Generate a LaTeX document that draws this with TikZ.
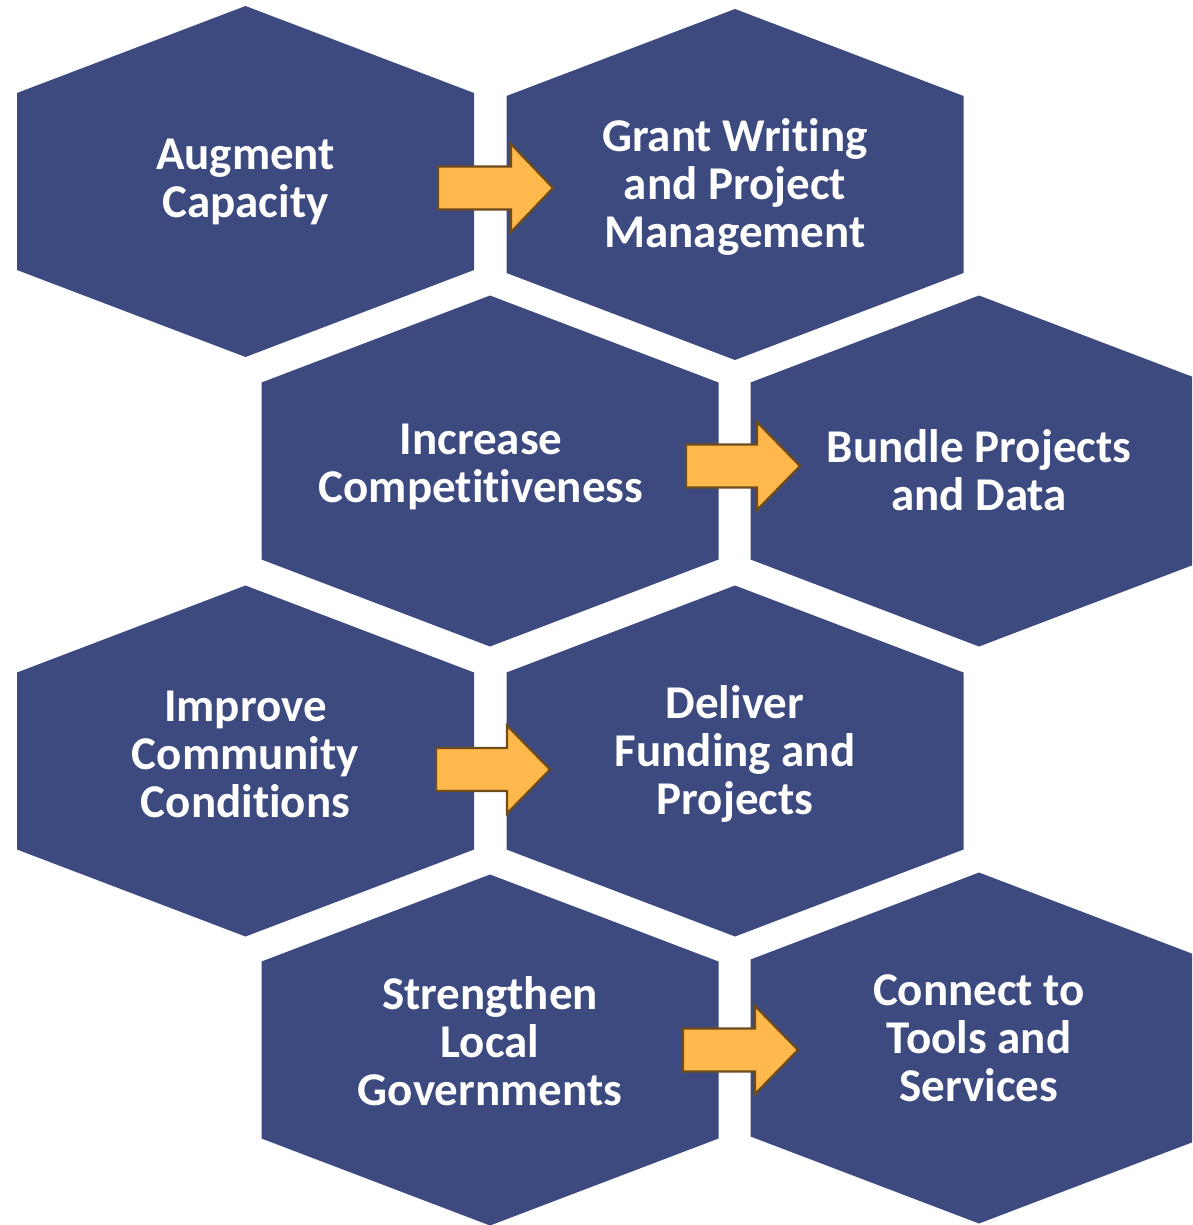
\documentclass[tikz,border=0pt]{standalone}
\usepackage{fontspec}
\setmainfont{Carlito}[RawFeature={-liga}]
\definecolor{hexblue}{RGB}{60,74,128}
\definecolor{arrfill}{RGB}{255,184,76}
\definecolor{arrline}{RGB}{110,76,28}
\newcommand\hexcell[3]{% name, cx, cy
  \coordinate (#1) at (#2,#3);
  \fill[hexblue] ($(#1)+(0,-175.5)$) -- ($(#1)+(228.5,-88.5)$) -- ($(#1)+(228.5,88.5)$)
    -- ($(#1)+(0,175.5)$) -- ($(#1)+(-228.5,88.5)$) -- ($(#1)+(-228.5,-88.5)$) -- cycle;
}
\newcommand\blockarrow[4]{% x0, ymid, xbase, xtip
  \filldraw[arrowshape] (#1,#2-21.5) -- (#3,#2-21.5) -- (#3,#2-44) -- (#4,#2)
    -- (#3,#2+44) -- (#3,#2+21.5) -- (#1,#2+21.5) -- cycle;
}
\usetikzlibrary{calc}
\tikzset{
  label text/.style={text=white, font=\fontsize{47}{48}\selectfont\bfseries, align=center, inner sep=0pt},
  arrowshape/.style={fill=arrfill, draw=arrline, line width=2.2pt, line join=miter},
}
\begin{document}
\begin{tikzpicture}[x=1pt,y=-1pt]
\useasboundingbox (0,0) rectangle (1192,1225);
\begin{scope}
\clip (0,0) rectangle (1192,1225);
\hexcell{h1}{245.5}{181.5}
\hexcell{h2}{735}{184.5}
\hexcell{h3}{490}{471}
\hexcell{h4}{979}{471}
\hexcell{h5}{245.5}{761}
\hexcell{h6}{735}{761}
\hexcell{h7}{490}{1050}
\hexcell{h8}{979}{1048}
\end{scope}
\blockarrow{438}{188}{511}{553}
\blockarrow{686}{466}{757}{800}
\blockarrow{436}{769.5}{507}{550}
\blockarrow{683}{1050}{755}{798}
\node[label text] (t1) at (245.5,182) {Augment\\Capacity};
\node[label text] (t2) at (735,187) {Grant Writing\\and Project\\Management};
\node[label text] (t3) at (481,467) {Increase\\Competitiveness};
\node[label text] (t4) at (979,470) {Bundle Projects\\and Data};
\node[label text] (t5) at (245.5,754) {Improve\\Community\\Conditions};
\node[label text] (t6) at (735,754) {Deliver\\Funding and\\Projects};
\node[label text] (t7) at (490,1041) {Strengthen\\Local\\Governments};
\node[label text] (t8) at (979,1038) {Connect to\\Tools and\\Services};
\end{tikzpicture}
\end{document}
